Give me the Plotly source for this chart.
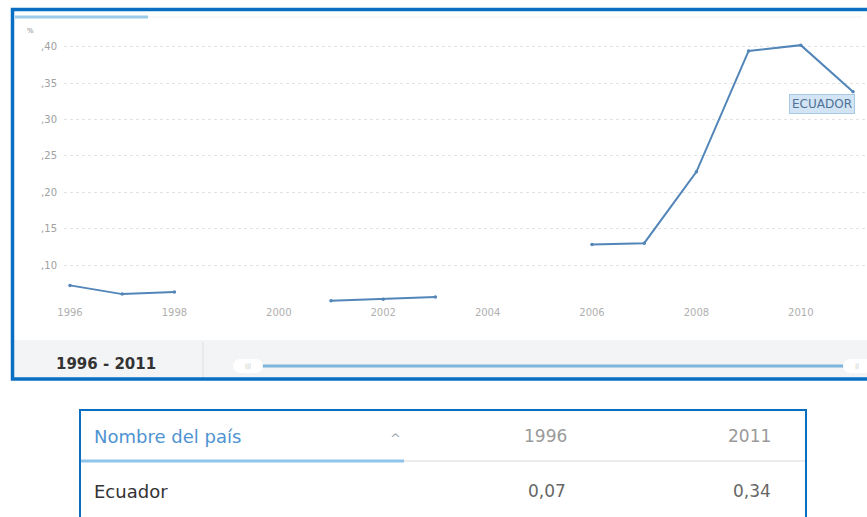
import plotly.graph_objects as go

W, H = 867, 517

# ---- data ----
years = list(range(1996, 2012))
values = [0.072, 0.060, 0.063, None, None, 0.051, 0.053, 0.056, None, None,
          0.128, 0.130, 0.228, 0.394, 0.402, 0.338]
country = "Ecuador"
y_ticks = [0.10, 0.15, 0.20, 0.25, 0.30, 0.35, 0.40]
y_tick_text = [",10", ",15", ",20", ",25", ",30", ",35", ",40"]
x_ticks = [1996, 1998, 2000, 2002, 2004, 2006, 2008, 2010]
range_label = "1996 - 2011"
table_header = ["Nombre del país", "1996", "2011"]
table_row = ["Ecuador", "0,07", "0,34"]


def px(x):
    return x / W


def py(y):
    return 1 - y / H


FONT = "DejaVu Sans, Verdana, sans-serif"

fig = go.Figure()
fig.add_trace(go.Scatter(
    x=years, y=values, mode="lines+markers",
    line=dict(color="#5285b8", width=2),
    marker=dict(size=3.5, color="#5285b8"),
    connectgaps=False, hoverinfo="skip", showlegend=False,
))

# axis mapping: x px = 70 + (yr-1996)*52.2 ; y px = 265 - (v-0.10)*728
x0px, x1px = 64, 866
y0px, y1px = 305, 38
xr = [1996 + (x0px - 70) / 52.2, 1996 + (x1px - 70) / 52.2]
yr = [0.10 + (265 - y0px) / 728, 0.10 + (265 - y1px) / 728]

fig.update_layout(
    width=W, height=H, margin=dict(l=0, r=0, t=0, b=0, autoexpand=False),
    paper_bgcolor="white", plot_bgcolor="white",
    font=dict(family=FONT),
    xaxis=dict(domain=[px(x0px), px(x1px)], range=xr, tickvals=x_ticks,
               ticktext=[str(t) for t in x_ticks], showgrid=False,
               zeroline=False, showline=False, ticks="", automargin=False,
               tickfont=dict(size=10, color="#b0b0b0")),
    yaxis=dict(domain=[py(y0px), py(y1px)], range=yr, tickvals=y_ticks,
               ticktext=y_tick_text, showgrid=True, gridcolor="#e2e2e2",
               griddash="dot", gridwidth=1, zeroline=False, showline=False,
               ticks="", ticklabelstandoff=6, automargin=False,
               tickfont=dict(size=10, color="#a0a0a0")),
)

shapes = []
annotations = []

# bottom strip of chart
shapes.append(dict(type="rect", xref="paper", yref="paper",
                   x0=px(14), x1=px(867), y0=py(378), y1=py(340),
                   fillcolor="#f3f4f5", line=dict(width=0), layer="below"))
shapes.append(dict(type="line", xref="paper", yref="paper",
                   x0=px(203), x1=px(203), y0=py(378), y1=py(342),
                   line=dict(color="#dedede", width=1)))
# slider track
shapes.append(dict(type="line", xref="paper", yref="paper",
                   x0=px(258), x1=px(848), y0=py(366), y1=py(366),
                   line=dict(color="#7db5de", width=3)))
# slider handles (rounded pills)
for a, b in [(233, 263), (843, 880)]:
    shapes.append(dict(type="rect", xref="paper", yref="paper",
                       x0=px(a + 6), x1=px(b - 6), y0=py(373), y1=py(359),
                       fillcolor="white", line=dict(width=0)))
    for cx in (a + 7, b - 7):
        shapes.append(dict(type="circle", xref="paper", yref="paper",
                           x0=px(cx - 7), x1=px(cx + 7), y0=py(373), y1=py(359),
                           fillcolor="white", line=dict(width=0)))
# top tab indicator
shapes.append(dict(type="line", xref="paper", yref="paper",
                   x0=px(148), x1=px(862), y0=py(17), y1=py(17),
                   line=dict(color="#f0f0f0", width=1)))
shapes.append(dict(type="line", xref="paper", yref="paper",
                   x0=px(15), x1=px(148), y0=py(17), y1=py(17),
                   line=dict(color="#9ccbe9", width=3)))
# outer blue frame of chart
shapes.append(dict(type="rect", xref="paper", yref="paper",
                   x0=px(12.5), x1=px(885), y0=py(379), y1=py(9.5),
                   line=dict(color="#0a6fc2", width=3.5)))

# table frame
shapes.append(dict(type="rect", xref="paper", yref="paper",
                   x0=px(80), x1=px(806), y0=py(540), y1=py(410),
                   line=dict(color="#0a6fc2", width=2)))
shapes.append(dict(type="line", xref="paper", yref="paper",
                   x0=px(404), x1=px(805), y0=py(461), y1=py(461),
                   line=dict(color="#e6e6e6", width=1.5)))
shapes.append(dict(type="line", xref="paper", yref="paper",
                   x0=px(81), x1=px(404), y0=py(461), y1=py(461),
                   line=dict(color="#8fc5ea", width=3)))

fig.update_layout(shapes=shapes)

# texts
annotations.append(dict(xref="paper", yref="paper", x=px(30), y=py(31),
                        text="%", showarrow=False, xanchor="center",
                        yanchor="middle", font=dict(size=7, color="#888888")))
annotations.append(dict(xref="paper", yref="paper", x=px(822), y=py(104),
                        text="ECUADOR", showarrow=False, xanchor="center",
                        yanchor="middle", bgcolor="#d3e5f4",
                        bordercolor="#a8c9e6", borderwidth=1, borderpad=2,
                        font=dict(size=12, color="#4f7196")))
annotations.append(dict(xref="paper", yref="paper", x=px(106), y=py(364),
                        text="<b>" + range_label + "</b>", showarrow=False,
                        xanchor="center", yanchor="middle",
                        font=dict(size=15, color="#333333")))
annotations.append(dict(xref="paper", yref="paper", x=px(248), y=py(366),
                        text="|||", showarrow=False, xanchor="center",
                        yanchor="middle", font=dict(size=6, color="#bbbbbb")))
annotations.append(dict(xref="paper", yref="paper", x=px(857), y=py(366),
                        text="||", showarrow=False, xanchor="center",
                        yanchor="middle", font=dict(size=6, color="#bbbbbb")))

# table header
annotations.append(dict(xref="paper", yref="paper", x=px(92), y=py(436),
                        text=table_header[0], showarrow=False, xanchor="left",
                        yanchor="middle", font=dict(size=18, color="#4f93d2")))
annotations.append(dict(xref="paper", yref="paper", x=px(395), y=py(438),
                        text="^", showarrow=False, xanchor="center",
                        yanchor="middle", font=dict(size=13, color="#9aa5b0")))
annotations.append(dict(xref="paper", yref="paper", x=px(545), y=py(436),
                        text=table_header[1], showarrow=False, xanchor="center",
                        yanchor="middle", font=dict(size=17, color="#9a9a9a")))
annotations.append(dict(xref="paper", yref="paper", x=px(749), y=py(436),
                        text=table_header[2], showarrow=False, xanchor="center",
                        yanchor="middle", font=dict(size=17, color="#9a9a9a")))
# table row
annotations.append(dict(xref="paper", yref="paper", x=px(92), y=py(491),
                        text=table_row[0], showarrow=False, xanchor="left",
                        yanchor="middle", font=dict(size=18, color="#333333")))
annotations.append(dict(xref="paper", yref="paper", x=px(547), y=py(491),
                        text=table_row[1], showarrow=False, xanchor="center",
                        yanchor="middle", font=dict(size=17, color="#666666")))
annotations.append(dict(xref="paper", yref="paper", x=px(752), y=py(491),
                        text=table_row[2], showarrow=False, xanchor="center",
                        yanchor="middle", font=dict(size=17, color="#666666")))

fig.update_layout(annotations=annotations)

fig.write_html("out.html", config={"displayModeBar": False})

# remove the browser's default body margin so the figure sits at (0,0)
with open("out.html", encoding="utf-8") as f:
    html = f.read()
html = html.replace("<body>", '<body style="margin:0;overflow:hidden">', 1)
with open("out.html", "w", encoding="utf-8") as f:
    f.write(html)
